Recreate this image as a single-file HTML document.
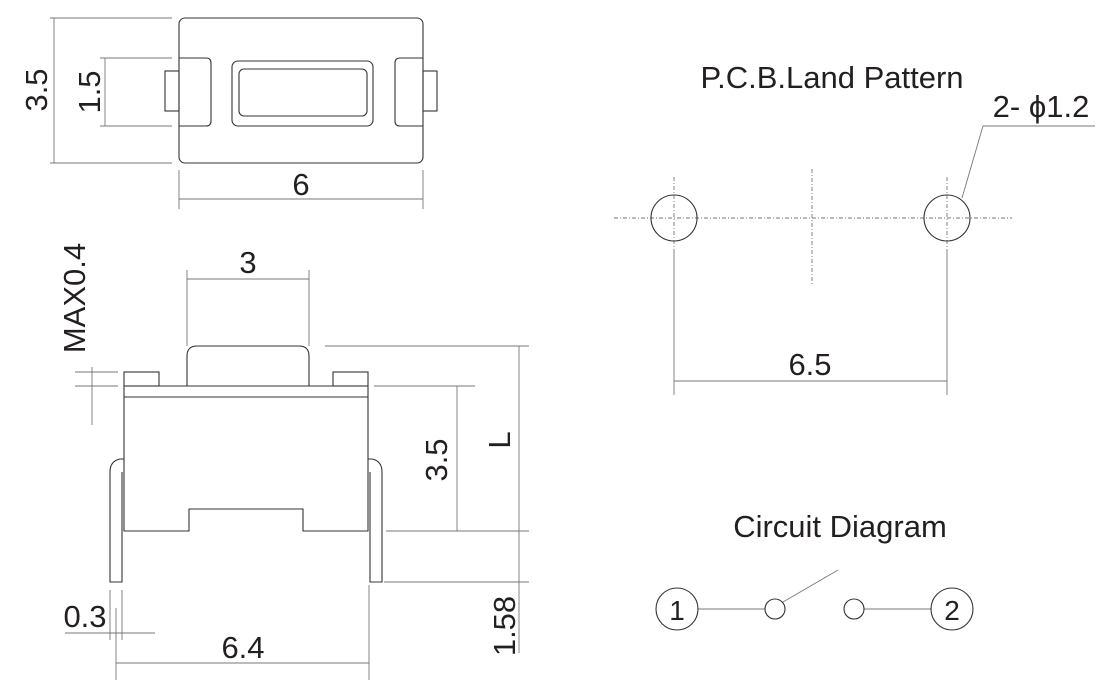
<!DOCTYPE html>
<html><head><style>
html,body{margin:0;padding:0;background:#fff;}
svg{display:block;}
text{font-family:"Liberation Sans",sans-serif;fill:#231f20;}
</style></head><body>
<svg width="1120" height="698" viewBox="0 0 1120 698" xmlns="http://www.w3.org/2000/svg">
<g fill="none" stroke="#333" stroke-width="1.1">
<!-- top view -->
<rect x="179" y="18" width="244" height="145" rx="6"/>
<path d="M179 58 H206 Q211 58 211 63 V121 Q211 126 206 126 H179"/>
<path d="M423 58 H400 Q395 58 395 63 V121 Q395 126 400 126 H423"/>
<rect x="165" y="71" width="14" height="40"/>
<rect x="423" y="71" width="14" height="40"/>
<rect x="232" y="61" width="141" height="65" rx="6"/>
<rect x="239" y="69" width="128" height="47" rx="5"/>
<!-- side view -->
<path d="M187 386 V356 Q187 346 197 346 H299 Q309 346 309 356 V386"/>
<rect x="124" y="372" width="35" height="14"/>
<rect x="333" y="372" width="35" height="14"/>
<path d="M124 386 H368 V531 H303 V509 H189 V531 H124 Z"/>
<line x1="124" y1="397" x2="368" y2="397"/>
<path d="M124 459 H120 Q110 461 110 472 V582 H122 V472"/>
<path d="M368 459 H372 Q382 461 382 472 V582 H370 V472"/>
</g>
<g fill="none" stroke="#777" stroke-width="0.9">
<line x1="54" y1="18" x2="54" y2="163"/><line x1="50" y1="18" x2="172" y2="18"/><line x1="50" y1="163" x2="172" y2="163"/>
<line x1="105" y1="58" x2="105" y2="126"/><line x1="100" y1="58" x2="172" y2="58"/><line x1="100" y1="126" x2="172" y2="126"/>
<line x1="179" y1="199" x2="423" y2="199"/><line x1="179" y1="170" x2="179" y2="209"/><line x1="423" y1="170" x2="423" y2="209"/>
<line x1="187" y1="279" x2="309" y2="279"/><line x1="187" y1="270" x2="187" y2="346"/><line x1="309" y1="270" x2="309" y2="346"/>
<line x1="92" y1="367" x2="92" y2="425"/><line x1="75" y1="372" x2="118" y2="372"/><line x1="75" y1="386" x2="118" y2="386"/>
<line x1="519" y1="346" x2="519" y2="653"/><line x1="325" y1="346" x2="529" y2="346"/><line x1="386" y1="531" x2="529" y2="531"/><line x1="384" y1="582" x2="529" y2="582"/>
<line x1="457" y1="386" x2="457" y2="531"/><line x1="374" y1="386" x2="475" y2="386"/>
<line x1="110" y1="590" x2="110" y2="640"/><line x1="122" y1="590" x2="122" y2="640"/><line x1="65" y1="633" x2="155" y2="633"/>
<line x1="116" y1="663" x2="369" y2="663"/><line x1="116" y1="608" x2="116" y2="680"/><line x1="369" y1="585" x2="369" y2="680"/>
<line x1="614" y1="218" x2="1012" y2="218" stroke-dasharray="4 2 1 2"/>
<line x1="812" y1="169" x2="812" y2="284" stroke-dasharray="4 2 1 2"/>
<line x1="674" y1="177" x2="674" y2="250" stroke-dasharray="4 2 1 2"/>
<line x1="947" y1="177" x2="947" y2="250" stroke-dasharray="4 2 1 2"/>
<line x1="674" y1="250" x2="674" y2="395"/><line x1="947" y1="250" x2="947" y2="395"/>
<line x1="674" y1="381" x2="947" y2="381"/>
<path d="M1095 126 H983 L962 198"/>
<line x1="698" y1="609" x2="765" y2="609"/><line x1="864" y1="609" x2="931" y2="609"/>
<line x1="783" y1="602" x2="838" y2="570"/>
</g>
<g fill="none" stroke="#333" stroke-width="1.1">
<circle cx="674" cy="218" r="23"/><circle cx="947" cy="218" r="23"/>
<circle cx="677" cy="609" r="21"/><circle cx="952" cy="609" r="21"/>
<circle cx="775" cy="609" r="10"/><circle cx="854" cy="609" r="10"/>
</g>
<g font-size="31" text-anchor="middle">
<text transform="translate(47,90) rotate(-90)">3.5</text>
<text transform="translate(100,92) rotate(-90)">1.5</text>
<text x="301" y="195">6</text>
<text x="248" y="273">3</text>
<text transform="translate(85,298) rotate(-90)">MAX0.4</text>
<text transform="translate(447,460) rotate(-90)">3.5</text>
<text transform="translate(510,440) rotate(-90)">L</text>
<text transform="translate(515,626) rotate(-90)">1.58</text>
<text x="85" y="627">0.3</text>
<text x="243" y="658">6.4</text>
<text x="832" y="88">P.C.B.Land Pattern</text>
<text x="1041" y="117">2- ϕ1.2</text>
<text x="810" y="375">6.5</text>
<text x="840" y="537">Circuit Diagram</text>
<text x="677" y="620" font-size="28">1</text>
<text x="952" y="620" font-size="28">2</text>
</g>
</svg>
</body></html>
